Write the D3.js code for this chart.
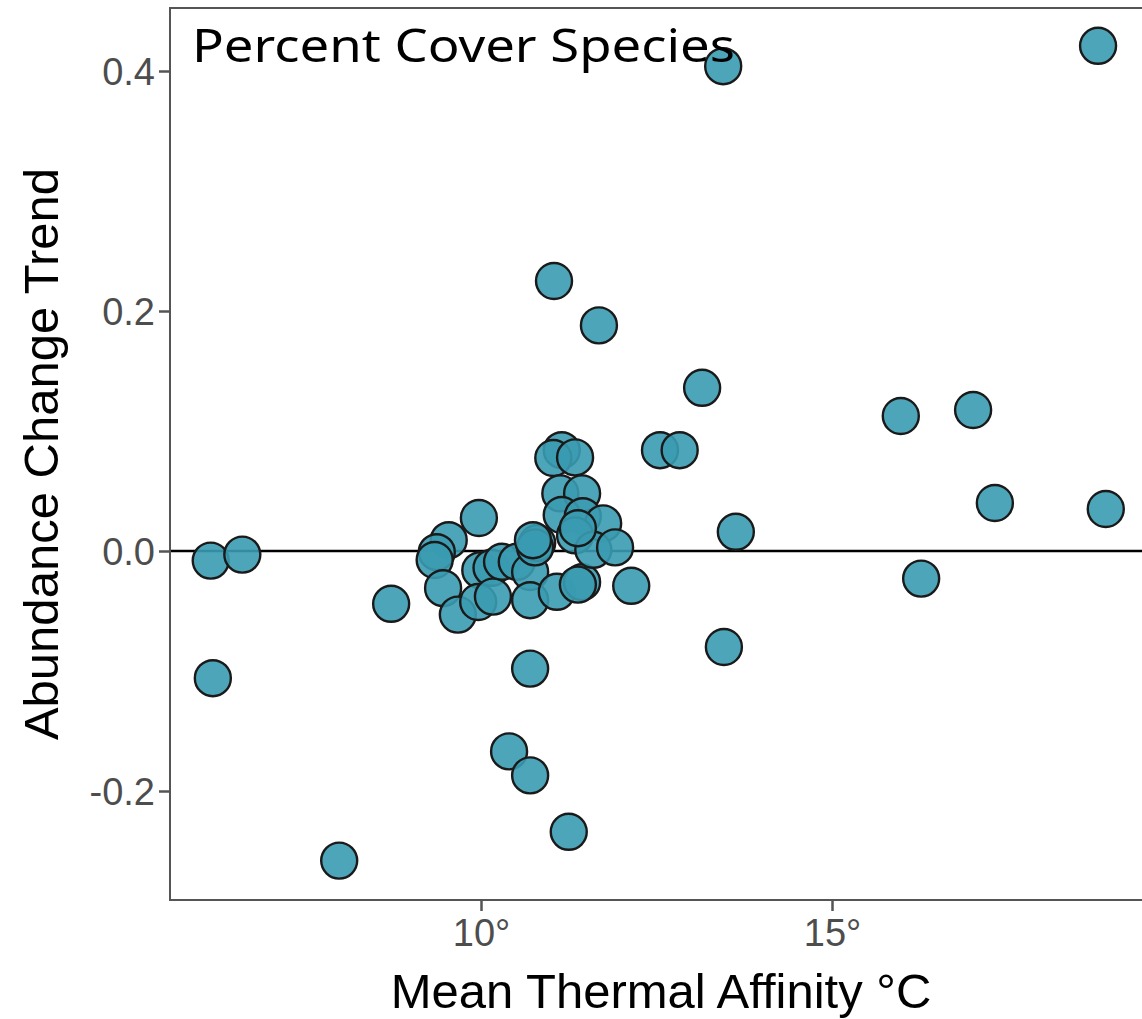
<!DOCTYPE html>
<html>
<head>
<meta charset="utf-8">
<script src="https://cdn.jsdelivr.net/npm/d3@7"></script>
<style>
  html, body { margin: 0; padding: 0; background: #fff; }
  svg { display: block; }
</style>
</head>
<body>
<svg id="chart" width="1142" height="1019"></svg>
<script>
// Mean thermal affinity (°C) of each percent-cover species
const thermalAffinity = [
  18.79, 13.45, 11.04, 11.68, 13.15, 15.98, 17.01, 12.55, 12.83,
  11.15, 11.03, 11.34, 11.13, 11.44, 17.32, 18.90, 13.63, 16.27,
  13.46, 6.15, 6.60, 6.18, 8.72, 7.98, 10.40, 10.70, 10.70, 11.25,
  12.14, 9.97, 9.54, 9.37, 9.34, 9.46, 9.67, 9.99, 10.15, 10.30,
  9.96, 10.17, 10.51, 10.70, 10.70, 11.08, 11.44, 11.38, 10.80,
  10.77, 10.74, 11.15, 11.45, 11.74, 11.34, 11.60, 11.38, 11.91
];
// Abundance change trend for the same species
const abundanceTrend = [
  0.421, 0.404, 0.225, 0.188, 0.136, 0.1125, 0.1175, 0.084, 0.084,
  0.084, 0.0775, 0.078, 0.048, 0.048, 0.040, 0.035, 0.016, -0.023,
  -0.080, -0.008, -0.003, -0.106, -0.044, -0.258, -0.167, -0.187, -0.098, -0.234,
  -0.029, 0.0275, 0.009, -0.001, -0.0075, -0.031, -0.053, -0.016, -0.014, -0.009,
  -0.0425, -0.038, -0.009, -0.0175, -0.041, -0.034, -0.026, -0.028, 0.0067,
  0.003, 0.009, 0.030, 0.029, 0.023, 0.013, 0.001, 0.019, 0.003
];
const xTicks = [10, 15];
const yTicks = [-0.2, 0.0, 0.2, 0.4];
const panelTitle = "Percent Cover Species";
const xTitle = "Mean Thermal Affinity °C";
const yTitle = "Abundance Change Trend";

const svg = d3.select("#chart");
const panel = { left: 170, top: 8, right: 1152, bottom: 900 };

const x = d3.scaleLinear().domain([10, 15]).range([481, 832]);
const y = d3.scaleLinear().domain([0, 0.4]).range([551, 71]);

const axisGrey = "#555555";
const tickText = "#4d4d4d";
const sans = "'Liberation Sans', Arial, sans-serif";

// reference line at zero
svg.append("line")
  .attr("x1", panel.left).attr("x2", panel.right)
  .attr("y1", y(0)).attr("y2", y(0))
  .attr("stroke", "#000").attr("stroke-width", 2.6);

// points
const pts = d3.zip(thermalAffinity, abundanceTrend);
svg.append("g").selectAll("circle").data(pts).join("circle")
  .attr("cx", d => x(d[0]))
  .attr("cy", d => y(d[1]))
  .attr("r", 18)
  .attr("fill", "#3a9bb1")
  .attr("fill-opacity", 0.9)
  .attr("stroke", "#1a1a1a")
  .attr("stroke-width", 2.4);

// panel border
svg.append("rect")
  .attr("x", panel.left).attr("y", panel.top)
  .attr("width", panel.right - panel.left)
  .attr("height", panel.bottom - panel.top)
  .attr("fill", "none").attr("stroke", axisGrey).attr("stroke-width", 2);

// y axis (hyphen-minus labels)
const yAxis = d3.axisLeft(y).tickValues(yTicks).tickSize(11).tickPadding(4)
  .tickFormat(d => d3.format(".1f")(d).replace("−", "-"));
const gy = svg.append("g").attr("transform", `translate(${panel.left},0)`).call(yAxis);
gy.select(".domain").remove();
gy.selectAll(".tick line").attr("stroke", axisGrey).attr("stroke-width", 2.5);
gy.selectAll(".tick text")
  .attr("fill", tickText)
  .style("font-family", sans)
  .style("font-size", "38px")
  .attr("dy", "0.36em");

// x axis
const xAxis = d3.axisBottom(x).tickValues(xTicks).tickSize(11).tickPadding(8)
  .tickFormat(d => d + "°");
const gx = svg.append("g").attr("transform", `translate(0,${panel.bottom})`).call(xAxis);
gx.select(".domain").remove();
gx.selectAll(".tick line").attr("stroke", axisGrey).attr("stroke-width", 2.5);
gx.selectAll(".tick text")
  .attr("fill", tickText)
  .style("font-family", sans)
  .style("font-size", "38px");

// axis titles
svg.append("text")
  .attr("x", (panel.left + panel.right) / 2)
  .attr("y", 1008)
  .attr("text-anchor", "middle")
  .style("font-family", sans)
  .style("font-size", "49px")
  .attr("fill", "#000")
  .text(xTitle);

svg.append("text")
  .attr("transform", `translate(58,${(panel.top + panel.bottom) / 2}) rotate(-90)`)
  .attr("text-anchor", "middle")
  .style("font-family", sans)
  .style("font-size", "49px")
  .attr("fill", "#000")
  .text(yTitle);

// panel label
svg.append("text")
  .attr("x", 192)
  .attr("y", 62)
  .attr("textLength", 543)
  .attr("lengthAdjust", "spacingAndGlyphs")
  .style("font-family", "'Noto Sans', sans-serif")
  .style("font-size", "45px")
  .attr("fill", "#000")
  .text(panelTitle);
</script>
</body>
</html>
